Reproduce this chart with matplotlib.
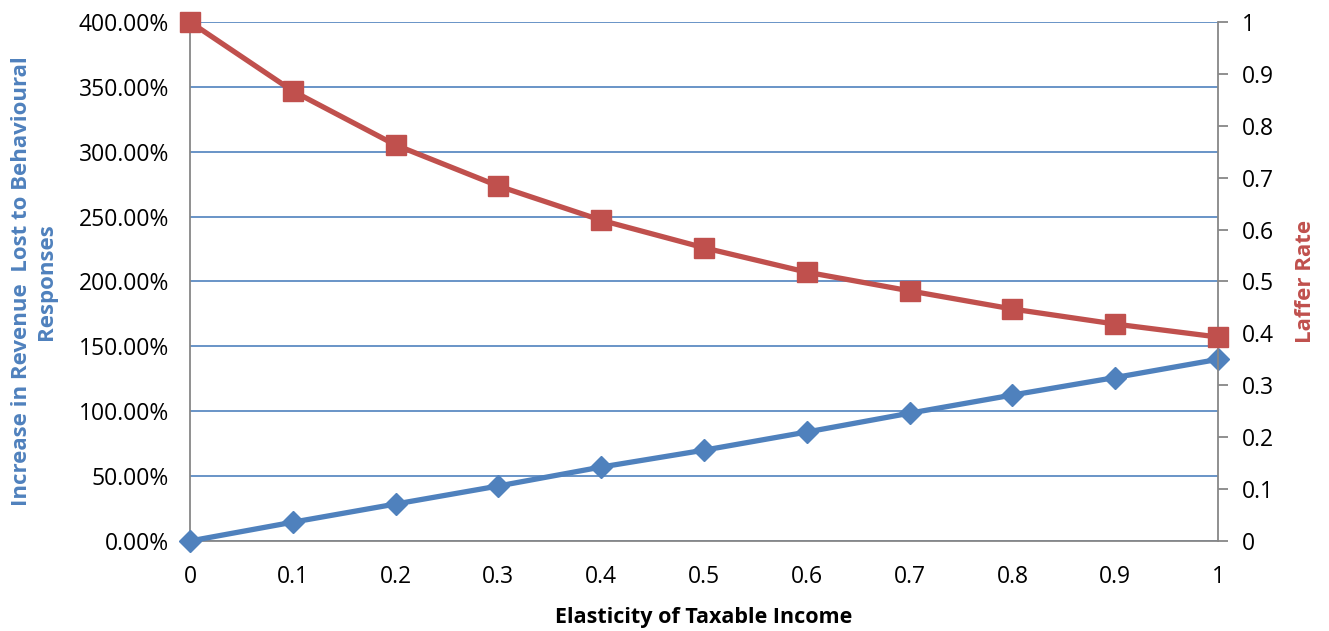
import numpy as np
import matplotlib.pyplot as plt
from matplotlib.ticker import FuncFormatter

plt.rcParams['font.family'] = ['Open Sans', 'DejaVu Sans']

elasticity = [0, 0.1, 0.2, 0.3, 0.4, 0.5, 0.6, 0.7, 0.8, 0.9, 1]
revenue_lost = [0, 14.5, 28.5, 42.4, 57, 70, 84, 98.5, 112.5, 126, 140]  # percent
laffer_rate = [1.0, 0.867, 0.763, 0.684, 0.618, 0.565, 0.518, 0.482, 0.447, 0.418, 0.393]

blue = '#4F81BD'
red = '#C0504D'
gray = '#878787'

fig = plt.figure(figsize=(13.29, 6.31), dpi=100)
ax = fig.add_axes([190 / 1329, 1 - 541 / 631, 1028 / 1329, 519 / 631])
ax2 = ax.twinx()

ax.set_xlim(0, 1)
ax.set_ylim(0, 400)
ax.set_yticks(np.arange(0, 401, 50))
ax.yaxis.set_major_formatter(FuncFormatter(lambda v, p: f"{v:.2f}%"))
ax.set_xticks(elasticity)
ax.set_xticklabels([f"{v:g}" for v in elasticity])
ax.grid(axis='y', color=blue, linewidth=1.2)
ax.set_axisbelow(True)
ax.tick_params(axis='both', length=0, labelsize=16.5)
ax.tick_params(axis='y', pad=15)
ax.tick_params(axis='x', pad=17)

for s in ['top', 'right']:
    ax.spines[s].set_visible(False)
for s in ['left', 'bottom']:
    ax.spines[s].set_color(gray)
    ax.spines[s].set_linewidth(1.3)

ax2.set_ylim(0, 1)
ax2.set_yticks(np.arange(0, 1.01, 0.1))
ax2.yaxis.set_major_formatter(FuncFormatter(lambda v, p: f"{v:g}" if v not in (0, 1) else f"{int(v)}"))
ax2.tick_params(axis='y', length=7, width=1.3, color=gray, labelsize=16.5, pad=10)
for s in ['top', 'left', 'bottom']:
    ax2.spines[s].set_visible(False)
ax2.spines['right'].set_color(gray)
ax2.spines['right'].set_linewidth(1.3)

ax.plot(elasticity, revenue_lost, color=blue, linewidth=3.8, marker='D',
        markersize=11, clip_on=False, zorder=3)
ax2.plot(elasticity, laffer_rate, color=red, linewidth=3.8, marker='s',
         markersize=14, clip_on=False, zorder=3)

ax.set_xlabel('Elasticity of Taxable Income', fontsize=15.5, fontweight='bold', labelpad=13)
ax.set_ylabel('Increase in Revenue  Lost to Behavioural\nResponses', fontsize=16,
              fontweight='bold', color=blue, labelpad=16)
ax2.set_ylabel('Laffer Rate', fontsize=16, fontweight='bold', color=red, labelpad=15)

fig.savefig('out.png', dpi=100)
